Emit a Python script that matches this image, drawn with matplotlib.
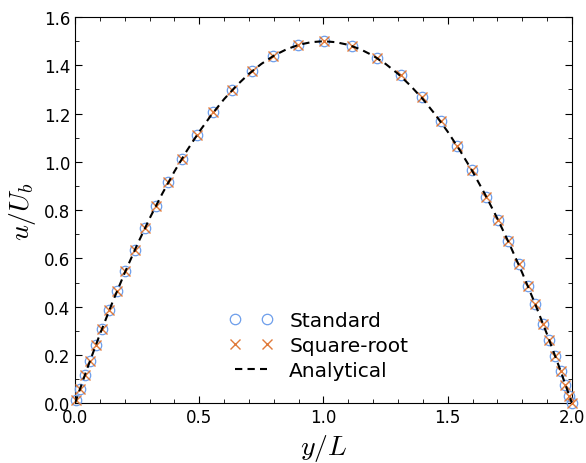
import matplotlib
matplotlib.use('Agg')
import matplotlib.pyplot as plt
from matplotlib.ticker import MultipleLocator

# Sample positions across the channel (stretched grid)
y_pts = [0.005, 0.02, 0.04, 0.06, 0.083, 0.109, 0.138, 0.169, 0.203, 0.240,
         0.281, 0.326, 0.376, 0.430, 0.490, 0.557, 0.631, 0.712, 0.797, 0.897,
         1.002, 1.115, 1.217, 1.313, 1.397, 1.472, 1.538, 1.597, 1.655, 1.703,
         1.744, 1.785, 1.822, 1.853, 1.884, 1.909, 1.932, 1.955, 1.974, 1.990, 2.0]

# Velocity
u_standard = [0.015, 0.059, 0.118, 0.175, 0.239, 0.309, 0.385, 0.464, 0.547, 0.634,
              0.724, 0.818, 0.916, 1.013, 1.110, 1.206, 1.296, 1.376, 1.438, 1.484,
              1.500, 1.481, 1.432, 1.358, 1.268, 1.171, 1.066, 0.966, 0.856, 0.759,
              0.670, 0.576, 0.486, 0.410, 0.328, 0.262, 0.197, 0.132, 0.077, 0.030, 0.0]
u_sqrt = [0.015, 0.059, 0.118, 0.175, 0.239, 0.309, 0.385, 0.464, 0.547, 0.634,
          0.724, 0.818, 0.916, 1.013, 1.110, 1.206, 1.296, 1.376, 1.438, 1.484,
          1.500, 1.481, 1.432, 1.358, 1.268, 1.171, 1.066, 0.966, 0.856, 0.759,
          0.670, 0.576, 0.486, 0.410, 0.328, 0.262, 0.197, 0.132, 0.077, 0.030, 0.0]

# Analytical profile
y_ana = [0.0, 0.05, 0.1, 0.15, 0.2, 0.25, 0.3, 0.35, 0.4, 0.45, 0.5, 0.55, 0.6, 0.65,
         0.7, 0.75, 0.8, 0.85, 0.9, 0.95, 1.0, 1.05, 1.1, 1.15, 1.2, 1.25, 1.3, 1.35,
         1.4, 1.45, 1.5, 1.55, 1.6, 1.65, 1.7, 1.75, 1.8, 1.85, 1.9, 1.95, 2.0]
u_ana = [0.0, 0.146, 0.285, 0.416, 0.54, 0.656, 0.765, 0.866, 0.96, 1.046, 1.125,
         1.196, 1.26, 1.316, 1.365, 1.406, 1.44, 1.466, 1.485, 1.496, 1.5,
         1.496, 1.485, 1.466, 1.44, 1.406, 1.365, 1.316, 1.26, 1.196, 1.125,
         1.046, 0.96, 0.866, 0.765, 0.656, 0.54, 0.416, 0.285, 0.146, 0.0]

plt.rcParams['mathtext.fontset'] = 'cm'

fig = plt.figure(figsize=(5.86, 4.64), dpi=100)
ax = fig.add_axes([0.128, 0.129, 0.848, 0.832])

ax.plot(y_pts, u_standard, 'o', mfc='none', mec='#6d9eeb', ms=7.5, mew=0.9,
        label='Standard', clip_on=False, zorder=3)
ax.plot(y_pts, u_sqrt, 'x', color='#e07a3a', ms=7.5, mew=1.0,
        label='Square-root', clip_on=False, zorder=4)
ax.plot(y_ana, u_ana, '--', color='black', lw=1.5, dashes=(3.5, 2.5),
        label='Analytical', zorder=5)

ax.set_xlim(0, 2)
ax.set_ylim(0, 1.6)
ax.xaxis.set_major_locator(MultipleLocator(0.5))
ax.xaxis.set_minor_locator(MultipleLocator(0.1))
ax.yaxis.set_major_locator(MultipleLocator(0.2))
ax.yaxis.set_minor_locator(MultipleLocator(0.1))
ax.tick_params(which='both', direction='in', top=True, right=True, labelsize=12)
ax.tick_params(which='major', length=5)
ax.tick_params(which='minor', length=3)

ax.set_xlabel('$y/L$', fontsize=20)
ax.set_ylabel('$u/U_b$', fontsize=20)

ax.legend(loc='center', bbox_to_anchor=(0.49, 0.15), frameon=False,
          numpoints=2, fontsize=14.5, handlelength=2.2, labelspacing=0.3)

fig.savefig('out.png', dpi=100)
